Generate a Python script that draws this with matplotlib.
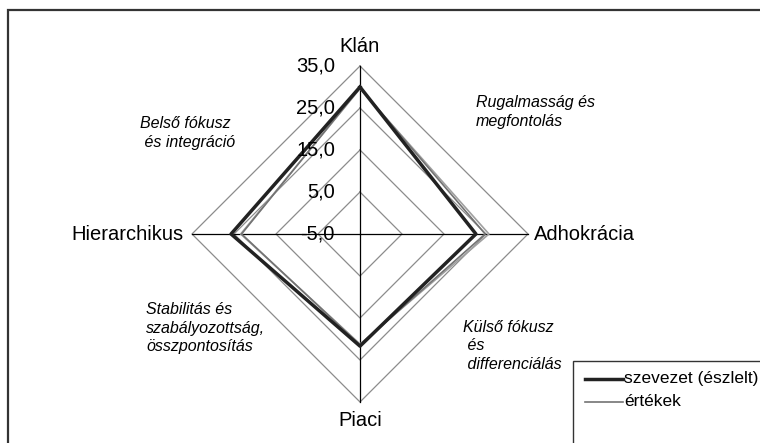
import matplotlib
matplotlib.use("Agg")
import matplotlib.pyplot as plt
import numpy as np
from matplotlib.patches import Rectangle
from matplotlib.lines import Line2D

plt.rcParams['font.family'] = ['Liberation Sans', 'DejaVu Sans']

categories = ["Klán", "Adhokrácia", "Piaci", "Hierarchikus"]
szervezet = [30.0, 22.6, 21.7, 25.7]
ertekek = [29.8, 24.8, 21.4, 23.2]
harmadik = [29.6, 25.7, 21.2, 23.4]
tick_values = [-5, 5, 15, 25, 35]
tick_labels = ["-5,0", "5,0", "15,0", "25,0", "35,0"]
vmin, vmax = -5, 35

W, H = 760, 443
fig = plt.figure(figsize=(W / 100, H / 100), dpi=100)
ax = fig.add_axes([0, 0, 1, 1])
ax.set_axis_off()

scale = 4.2  # px per unit
cx, cy = 360, 234
ax.set_xlim(-cx / scale, (W - cx) / scale)
ax.set_ylim(-(H - cy) / scale, cy / scale)

# directions: top, right, bottom, left
dirs = np.array([[0, 1], [1, 0], [0, -1], [-1, 0]])


def pts(vals):
    r = np.array(vals) - vmin
    p = dirs * r[:, None]
    return np.vstack([p, p[:1]])


# grid diamonds
for tv in tick_values[1:]:
    p = pts([tv] * 4)
    ax.plot(p[:, 0], p[:, 1], color="#8c8c8c", lw=0.9, zorder=1)

# spokes
R = vmax - vmin
for d in dirs:
    ax.plot([0, d[0] * R], [0, d[1] * R], color="black", lw=0.9, zorder=2)

# series
p = pts(harmadik)
ax.plot(p[:, 0], p[:, 1], color="#a0a0a0", lw=1.2, zorder=3)
p = pts(ertekek)
ax.plot(p[:, 0], p[:, 1], color="#737373", lw=1.2, zorder=4)
p = pts(szervezet)
ax.plot(p[:, 0], p[:, 1], color="#222222", lw=2.5, zorder=5)

# tick labels
for tv, tl in zip(tick_values, tick_labels):
    ax.annotate(tl, (0, tv - vmin), xytext=(-18, 0), textcoords="offset points",
                ha="right", va="center", fontsize=14.5, zorder=6)

# category labels
fs = 14.5
ax.annotate(categories[0], (0, R), xytext=(0, 14), textcoords="offset points",
            ha="center", va="center", fontsize=fs)
ax.annotate(categories[1], (R, 0), xytext=(4, 0), textcoords="offset points",
            ha="left", va="center", fontsize=fs)
ax.annotate(categories[2], (0, -R), xytext=(0, -13.5), textcoords="offset points",
            ha="center", va="center", fontsize=fs)
ax.annotate(categories[3], (-R, 0), xytext=(-6, 0), textcoords="offset points",
            ha="right", va="center", fontsize=fs)


def ftext(x, y, s, **kw):
    fig.text(x / W, 1 - y / H, s, fontsize=11.5, style="italic", va="center",
             ha="left", linespacing=1.27, **kw)


ftext(140, 133, "Belső fókusz\n és integráció")
ftext(476, 112, "Rugalmasság és\nmegfontolás")
ftext(146, 328, "Stabilitás és\nszabályozottság,\nösszpontosítás")
ftext(463, 346, "Külső fókusz\n és\n differenciálás")

# outer frame
fig.patches.append(Rectangle((8 / W, -0.1), 1.2, 1.1 - 10 / H, transform=fig.transFigure,
                             fill=False, edgecolor="#333333", lw=1.6))

# legend box
fig.patches.append(Rectangle((573 / W, -0.1), 1.0, 0.1 + (H - 361) / H, transform=fig.transFigure,
                             fill=True, facecolor="white", edgecolor="#333333", lw=1.0, zorder=10))
fig.lines.append(Line2D([585 / W, 623 / W], [1 - 379 / H] * 2, transform=fig.transFigure,
                        color="#222222", lw=2.5, zorder=11))
fig.lines.append(Line2D([585 / W, 623 / W], [1 - 402 / H] * 2, transform=fig.transFigure,
                        color="#737373", lw=1.2, zorder=11))
fig.text(624 / W, 1 - 379 / H, "szevezet (észlelt)", fontsize=12.5, va="center", ha="left", zorder=12)
fig.text(624 / W, 1 - 402 / H, "értékek", fontsize=12.5, va="center", ha="left", zorder=12)

fig.savefig("out.png", dpi=100)
